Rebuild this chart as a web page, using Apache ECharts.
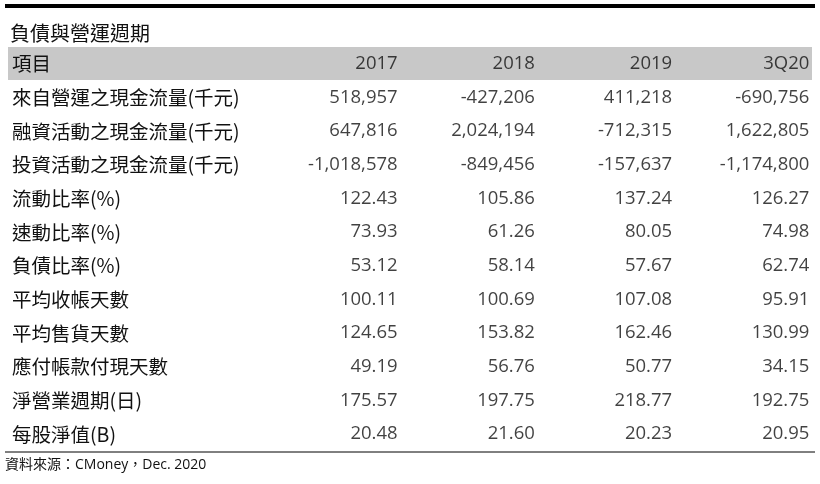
<!DOCTYPE html><html><head><meta charset="utf-8"><script src="https://cdn.jsdelivr.net/npm/echarts@6/dist/echarts.min.js"></script>
<style>body{margin:0;background:#fff}#c{width:820px;height:484px}</style></head><body><div id="c"></div><script>
const columns=['2017','2018','2019','3Q20'];
const rowLabels=['項目','來自營運之現金流量(千元)','融資活動之現金流量(千元)','投資活動之現金流量(千元)','流動比率(%)','速動比率(%)','負債比率(%)','平均收帳天數','平均售貨天數','應付帳款付現天數','淨營業週期(日)','每股淨值(B)'];
const v2017=['518,957','647,816','-1,018,578','122.43','73.93','53.12','100.11','124.65','49.19','175.57','20.48'];
const v2018=['-427,206','2,024,194','-849,456','105.86','61.26','58.14','100.69','153.82','56.76','197.75','21.60'];
const v2019=['411,218','-712,315','-157,637','137.24','80.05','57.67','107.08','162.46','50.77','218.77','20.23'];
const v3Q20=['-690,756','1,622,805','-1,174,800','126.27','74.98','62.74','95.91','130.99','34.15','192.75','20.95'];
const cols=[v2017,v2018,v2019,v3Q20];
const data=[];
columns.forEach((c,i)=>{data.push({value:[c,rowLabels[0]],text:c});cols[i].forEach((t,j)=>data.push({value:[c,rowLabels[j+1]],text:t}));});
const ff='"Open Sans","Noto Sans CJK TC",sans-serif';
const ff2='"Noto Sans CJK TC",sans-serif';
const ch=echarts.init(document.getElementById('c'));
ch.setOption({animation:false,
 title:{text:'負債與營運週期',left:5,top:18,textStyle:{fontSize:20,fontWeight:'normal',color:'#111',fontFamily:ff2}},
 graphic:[{type:'rect',shape:{x:5,y:4,width:810,height:4},style:{fill:'#000'}},
  {type:'rect',z:-1,shape:{x:8,y:47,width:804,height:33},style:{fill:'#c8c8c8'}},
  {type:'line',shape:{x1:5,y1:452,x2:815,y2:452},style:{stroke:'#000',lineWidth:1}},
  {type:'text',left:5,top:458,style:{text:'資料來源：CMoney，Dec. 2020',fontSize:14,fill:'#111',fontFamily:ff}}],
 grid:{left:263,right:8,top:47,bottom:33},
 xAxis:{type:'category',data:columns,show:false},
 yAxis:{type:'category',data:rowLabels,inverse:true,axisLine:{show:false},axisTick:{show:false},
  axisLabel:{align:'left',margin:251,fontSize:19.5,color:'#111',fontFamily:ff2}},
 series:[{type:'scatter',symbolSize:0,data:data,
  label:{show:true,position:'inside',align:'right',offset:[66,0],fontSize:18.5,color:'#111',fontFamily:ff,formatter:p=>p.data.text}}]
});
</script></body></html>
